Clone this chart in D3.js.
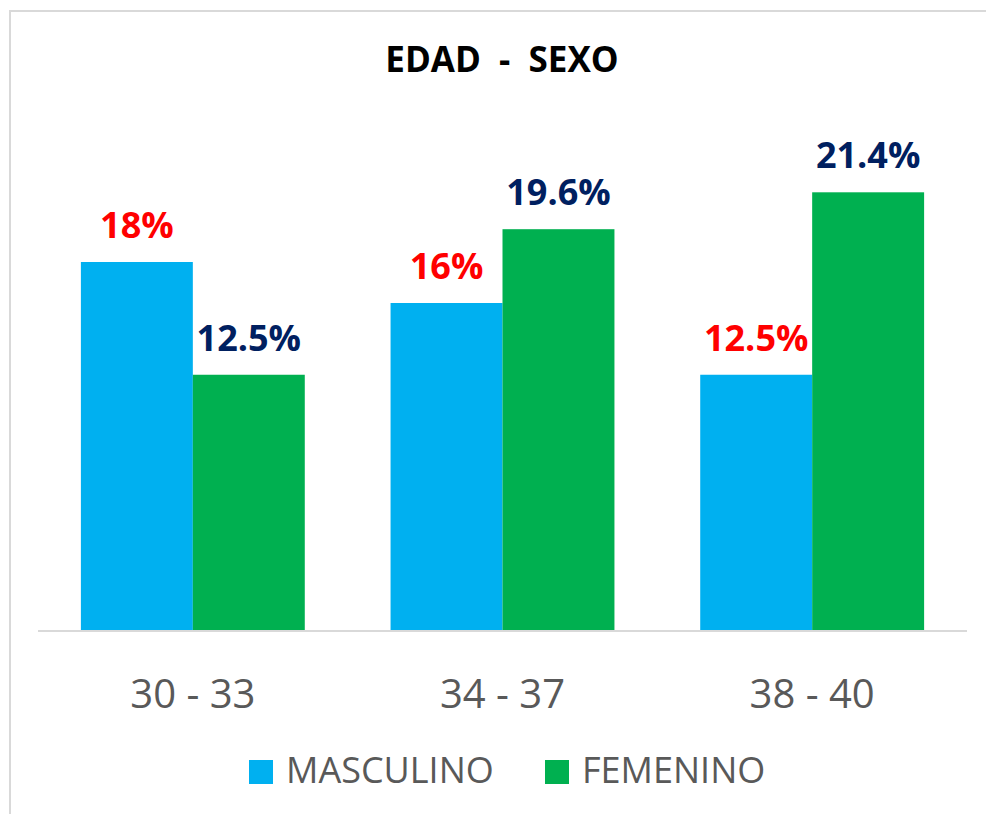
<!DOCTYPE html>
<html>
<head>
<meta charset="utf-8">
<script src="https://cdn.jsdelivr.net/npm/d3@7"></script>
<style>
  body { margin: 0; background: #fff; }
  svg { display: block; font-family: "Open Sans", sans-serif; }
</style>
</head>
<body>
<div id="chart"></div>
<script>
// data
var categories = ["30 - 33", "34 - 37", "38 - 40"];
var series = ["MASCULINO", "FEMENINO"];
var masculino = [18, 16, 12.5];
var femenino = [12.5, 19.6, 21.4];
var labelsMasculino = ["18%", "16%", "12.5%"];
var labelsFemenino = ["12.5%", "19.6%", "21.4%"];

var colors = { MASCULINO: "#00B0F0", FEMENINO: "#00B050" };
var labelColors = { MASCULINO: "#FF0000", FEMENINO: "#002060" };

var width = 986, height = 814;
var baseline = 631;

var svg = d3.select("#chart")
    .append("svg")
        .attr("width", width)
        .attr("height", height);

// chart border (light gray, runs off the right and bottom)
svg.append("rect")
    .attr("x", 10).attr("y", 11)
    .attr("width", 1000).attr("height", 900)
    .attr("fill", "none")
    .attr("stroke", "#d9d9d9")
    .attr("stroke-width", 2);

svg.append("text")
    .attr("x", 502).attr("y", 72)
    .attr("text-anchor", "middle")
    .style("white-space", "pre")
    .attr("font-size", 35)
    .attr("font-weight", "bold")
    .attr("fill", "#000")
    .text("EDAD  -  SEXO");

var x = d3.scaleBand()
    .domain(categories)
    .range([38, 967])
    .paddingInner(0.277)
    .paddingOuter(0.1385);

var xs = d3.scaleBand()
    .domain(series)
    .range([0, x.bandwidth()]);

var y = d3.scaleLinear()
    .domain([0, 25])
    .range([baseline, baseline - 25 * 20.5]);

var rows = categories.map(function(c, i) {
    return [
        { cat: c, s: "MASCULINO", v: masculino[i], label: labelsMasculino[i] },
        { cat: c, s: "FEMENINO", v: femenino[i], label: labelsFemenino[i] }
    ];
});

var groups = svg.append("g").selectAll("g")
    .data(rows)
    .enter().append("g")
        .attr("transform", function(d) { return "translate(" + x(d[0].cat) + ",0)"; });

groups.selectAll("rect")
    .data(function(d) { return d; })
    .enter().append("rect")
        .attr("x", function(d) { return xs(d.s); })
        .attr("y", function(d) { return y(d.v); })
        .attr("width", xs.bandwidth())
        .attr("height", function(d) { return baseline - y(d.v); })
        .attr("fill", function(d) { return colors[d.s]; });

groups.selectAll("text")
    .data(function(d) { return d; })
    .enter().append("text")
        .attr("x", function(d) { return xs(d.s) + xs.bandwidth() / 2; })
        .attr("y", function(d) { return y(d.v) - 24; })
        .attr("text-anchor", "middle")
        .attr("font-size", 36)
        .attr("font-weight", "bold")
        .attr("fill", function(d) { return labelColors[d.s]; })
        .text(function(d) { return d.label; });

// x axis
var xAxis = d3.axisBottom(x).tickSize(0).tickPadding(0);
var gx = svg.append("g")
    .attr("transform", "translate(0," + baseline + ")")
    .call(xAxis);
gx.select(".domain")
    .attr("d", "M38,0H967")
    .attr("stroke", "#d9d9d9")
    .attr("stroke-width", 2);
gx.selectAll(".tick text")
    .attr("dy", null)
    .attr("y", 77)
    .attr("font-family", "'Open Sans', sans-serif")
    .attr("font-size", 40)
    .attr("fill", "#595959");

// legend
var legendItems = [
    { s: "MASCULINO", x: 249 },
    { s: "FEMENINO", x: 545 }
];
var legend = svg.append("g").selectAll("g")
    .data(legendItems)
    .enter().append("g")
        .attr("transform", function(d) { return "translate(" + d.x + ",760)"; });
legend.append("rect")
    .attr("width", 24).attr("height", 24)
    .attr("fill", function(d) { return colors[d.s]; });
legend.append("text")
    .attr("x", 37).attr("y", 23)
    .attr("font-size", 36)
    .attr("fill", "#595959")
    .text(function(d) { return d.s; });
</script>
</body>
</html>
